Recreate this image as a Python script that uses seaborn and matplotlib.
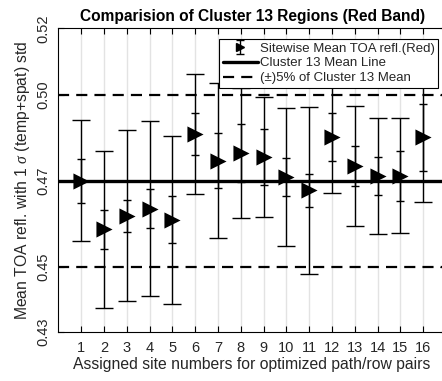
import numpy as np
import pandas as pd
import matplotlib
matplotlib.use("Agg")
import matplotlib.pyplot as plt
import seaborn as sns
from matplotlib.lines import Line2D
from matplotlib.legend_handler import HandlerTuple

# ---- data ----
sites = list(range(1, 17))
site_mean = [0.4740, 0.4606, 0.4643, 0.4663, 0.4632, 0.4869, 0.4795, 0.4816,
             0.4806, 0.4751, 0.4714, 0.4860, 0.4780, 0.4753, 0.4754, 0.4860]
inner_std = [0.0060, 0.0054, 0.0045, 0.0054, 0.0065, 0.0058, 0.0076, 0.0080,
             0.0078, 0.0053, 0.0046, 0.0066, 0.0055, 0.0052, 0.0069, 0.0093]
outer_std = [0.0167, 0.0216, 0.0236, 0.0241, 0.0232, 0.0166, 0.0214, 0.0179,
             0.0166, 0.0190, 0.0231, 0.0153, 0.0166, 0.0161, 0.0158, 0.0178]
cluster_mean = 0.474
band_pct = 0.05
ylim_frac = (0.9121, 1.0888)

title = "Comparision of Cluster 13 Regions (Red Band)"
xlabel = "Assigned site numbers for optimized path/row pairs"
ylabel = r"Mean TOA refl. with 1 $\sigma$ (temp+spat) std"
legend_labels = ["Sitewise Mean TOA refl.(Red)", "Cluster 13 Mean Line",
                 "(\u00b1)5% of Cluster 13 Mean"]

df = pd.DataFrame({"site": sites, "mean": site_mean,
                   "inner": inner_std, "outer": outer_std})

sns.set_style("white")
plt.rcParams["font.family"] = ["Liberation Sans", "DejaVu Sans"]
plt.rcParams["mathtext.fontset"] = "custom"
plt.rcParams["mathtext.it"] = "Liberation Serif:italic"
txt = "#262626"

fig = plt.figure(figsize=(4.42, 3.81), dpi=100)
ax = fig.add_axes([58.3 / 442, (381 - 331.7) / 381, 387.6 / 442, 303.4 / 381])

# grid lines at the sites
for s in sites:
    ax.axvline(s, color="#e3e3e3", lw=1.0, zorder=0)

# reference lines
lo, hi = cluster_mean * (1 - band_pct), cluster_mean * (1 + band_pct)
mean_line = ax.axhline(cluster_mean, color="black", lw=2.4, zorder=2)
ax.axhline(lo, color="black", lw=1.6, ls=(0, (5, 3.2)), zorder=2)
band_line = ax.axhline(hi, color="black", lw=1.6, ls=(0, (5, 3.2)), zorder=2)

# error bars
ax.errorbar(df["site"], df["mean"], yerr=df["outer"], fmt="none",
            ecolor="black", elinewidth=1.0, capsize=6.5, capthick=1.0, zorder=3)
inner = ax.errorbar(df["site"], df["mean"], yerr=df["inner"], fmt="none",
                    ecolor="black", elinewidth=1.0, capsize=3.0, capthick=1.0,
                    zorder=3)

# markers
sns.scatterplot(data=df, x="site", y="mean", marker=">", s=135, color="black",
                edgecolor="black", linewidth=0, ax=ax, zorder=4, legend=False)

ax.set_xlim(0, 17)
ax.set_ylim(cluster_mean * ylim_frac[0], cluster_mean * ylim_frac[1])
ax.set_xticks(sites)
ax.set_xticklabels([str(s) for s in sites])
yt = [cluster_mean * ylim_frac[0], lo, cluster_mean, hi, cluster_mean * ylim_frac[1]]
ax.set_yticks(yt)
ax.set_yticklabels([f"{v:.2f}" for v in yt], rotation=90, va="center")

ax.tick_params(axis="x", direction="in", length=4, width=0.8, top=True,
               bottom=True, labelsize=10.5, pad=7, colors="black", labelcolor=txt)
ax.tick_params(axis="y", direction="in", length=4, width=0.8, left=True,
               right=True, labelsize=10.5, pad=6, colors="black", labelcolor=txt)
for sp in ax.spines.values():
    sp.set_color("black")
    sp.set_linewidth(0.8)

ax.set_xlabel(xlabel, fontsize=11.3, color=txt, labelpad=1)
ax.set_ylabel(ylabel, fontsize=11.3, color=txt, labelpad=3)
ax.set_title(title, fontsize=11.2, fontweight="bold", color="black", pad=5)

marker_proxy = Line2D([], [], marker=">", color="black", ls="none", markersize=6)
leg = ax.legend([(inner, marker_proxy), mean_line, band_line], legend_labels,
                handler_map={tuple: HandlerTuple(ndivide=1)},
                loc="upper right", bbox_to_anchor=(0.979, 0.9647),
                borderaxespad=0, fontsize=9.5, frameon=True, fancybox=False,
                framealpha=1, edgecolor="black", handlelength=2.7,
                handletextpad=0.1, borderpad=0.25, labelspacing=0.2)
leg.get_frame().set_linewidth(0.8)
leg.set_zorder(10)
for t in leg.get_texts():
    t.set_color(txt)

fig.savefig("out.png", dpi=100)
